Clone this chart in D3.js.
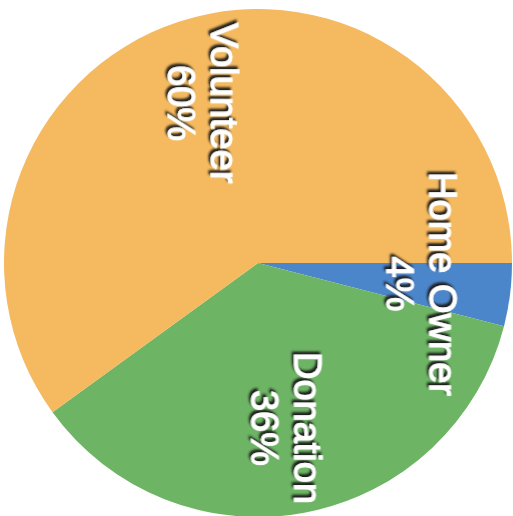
<!DOCTYPE html>
<html>
<head>
<meta charset="utf-8">
<script src="https://cdn.jsdelivr.net/npm/d3@7"></script>
<style>
  html, body { margin: 0; padding: 0; background: #ffffff; }
  svg { display: block; }
  text { font-family: "Liberation Sans", Arial, sans-serif; }
</style>
</head>
<body>
<svg id="chart" width="513" height="516"></svg>
<script>
const categories = ["Home Owner", "Donation", "Volunteer"];
const values = [4, 36, 60];
const percentLabels = ["4%", "36%", "60%"];
const colors = ["#4B86CB", "#6DB464", "#F5BA5F"];

const W = 513, H = 516;
const cx = 258, cy = 263, R = 254;

const svg = d3.select("#chart");

const defs = svg.append("defs");
const f = defs.append("filter").attr("id", "shadow")
  .attr("x", "-20%").attr("y", "-20%").attr("width", "140%").attr("height", "140%");
f.append("feDropShadow").attr("dx", -3).attr("dy", 2)
  .attr("stdDeviation", 1.3).attr("flood-color", "#1a1a1a").attr("flood-opacity", 1);

const data = categories.map((c, i) => ({ name: c, value: values[i], pct: percentLabels[i], color: colors[i] }));

const pie = d3.pie()
  .value(d => d.value)
  .sort(null)
  .startAngle(Math.PI / 2)
  .endAngle(Math.PI / 2 + 2 * Math.PI);

const arcs = pie(data);
const arc = d3.arc().innerRadius(0).outerRadius(R);
const labelArc = d3.arc().innerRadius(168).outerRadius(168);

const g = svg.append("g").attr("transform", `translate(${cx},${cy})`);

g.selectAll("path.slice")
  .data(arcs)
  .join("path")
  .attr("class", "slice")
  .attr("d", arc)
  .attr("fill", d => d.data.color);

const labels = g.selectAll("g.label")
  .data(arcs)
  .join("g")
  .attr("class", "label")
  .attr("transform", d => {
    const [x, y] = labelArc.centroid(d);
    return `translate(${x},${y}) rotate(90)`;
  })
  .attr("filter", "url(#shadow)");

labels.append("text")
  .attr("text-anchor", "middle")
  .attr("y", -5)
  .attr("fill", "#ffffff")
  .attr("stroke", "#ffffff")
  .attr("stroke-width", 1)
  .attr("font-size", 38)
  .text(d => d.data.name);

labels.append("text")
  .attr("text-anchor", "middle")
  .attr("y", 38)
  .attr("fill", "#ffffff")
  .attr("stroke", "#ffffff")
  .attr("stroke-width", 1)
  .attr("font-size", 38)
  .text(d => d.data.pct);
</script>
</body>
</html>
